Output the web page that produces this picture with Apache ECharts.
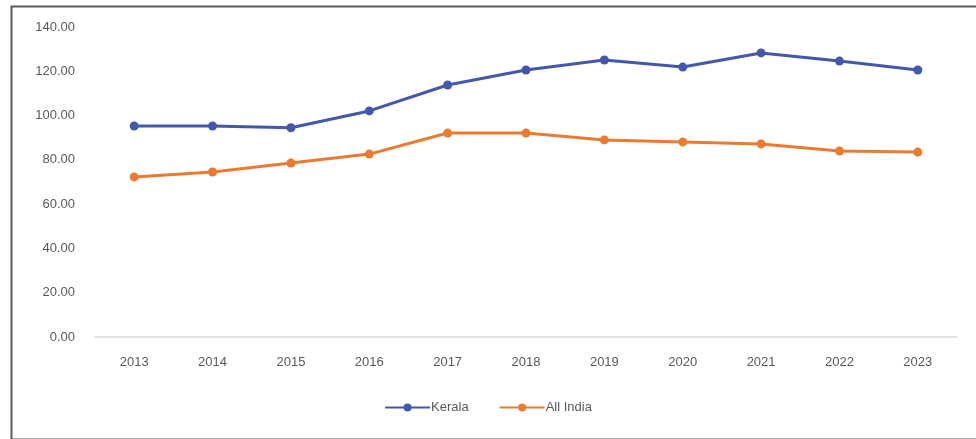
<!DOCTYPE html>
<html><head><meta charset="utf-8">
<script src="https://cdn.jsdelivr.net/npm/echarts@6/dist/echarts.min.js"></script>
<style>html,body{margin:0;padding:0;background:#fff}#c{width:976px;height:439px}</style>
</head><body><div id="c"></div>
<script>
const years = ['2013','2014','2015','2016','2017','2018','2019','2020','2021','2022','2023'];
const kerala = [95.3, 95.3, 94.5, 102.1, 113.8, 120.6, 125.1, 121.9, 128.3, 124.6, 120.6];
const allIndia = [72.3, 74.5, 78.6, 82.6, 92.1, 92.1, 89.0, 88.1, 87.2, 84.0, 83.5];

const chart = echarts.init(document.getElementById('c'), null, {renderer:'canvas'});
chart.setOption({
  animation: false,
  backgroundColor: '#fff',
  graphic: [{
    type: 'rect', left: 9, top: 4, silent: true,
    shape: {width: 966, height: 433},
    style: {fill: 'none', stroke: '#5a5a5a', lineWidth: 2}
  }],
  grid: {left: 95, right: 19, top: 27, bottom: 102, containLabel: false},
  xAxis: {
    type: 'category', data: years, boundaryGap: true,
    axisLine: {lineStyle: {color: '#d9d9d9', width: 1.5}},
    axisTick: {show: false},
    axisLabel: {color: '#595959', fontFamily: 'Liberation Sans, Arial', fontSize: 13, margin: 19}
  },
  yAxis: {
    type: 'value', min: 0, max: 140, interval: 20,
    axisLine: {show: false}, axisTick: {show: false},
    splitLine: {show: false},
    axisLabel: {color: '#595959', fontFamily: 'Liberation Sans, Arial', fontSize: 13, margin: 20,
      formatter: v => v.toFixed(2)}
  },
  legend: {
    bottom: 20, left: 'center', itemWidth: 45, itemHeight: 10, itemGap: 30,
    textStyle: {color: '#595959', fontFamily: 'Liberation Sans, Arial', fontSize: 13, padding: [0,0,0,-4]},
    data: ['Kerala', 'All India']
  },
  series: [
    {name: 'Kerala', type: 'line', data: kerala, color: '#4358ad',
     symbol: 'circle', symbolSize: 9, lineStyle: {width: 3}},
    {name: 'All India', type: 'line', data: allIndia, color: '#ec7b30',
     symbol: 'circle', symbolSize: 9, lineStyle: {width: 3}}
  ]
});
</script></body></html>
